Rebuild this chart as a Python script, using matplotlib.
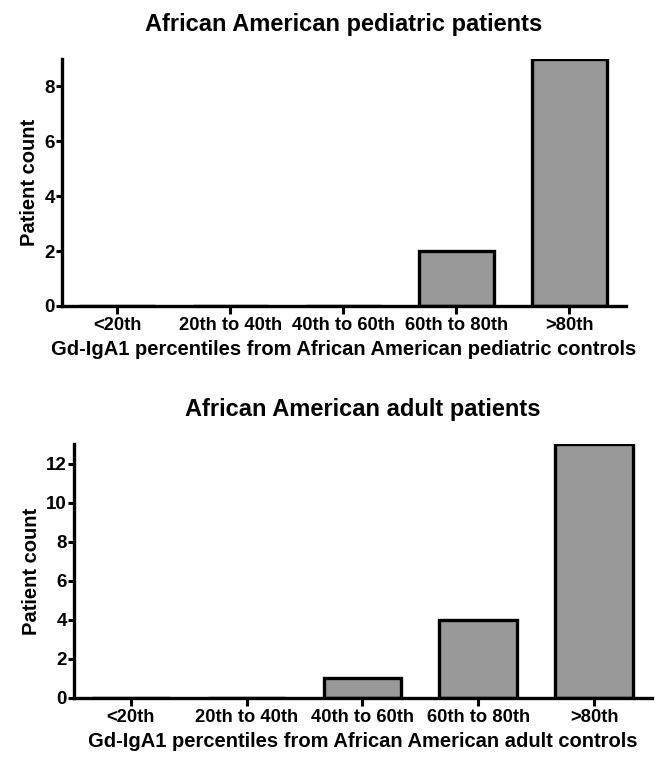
import matplotlib.pyplot as plt

# categories and counts
categories = ["<20th", "20th to 40th", "40th to 60th", "60th to 80th", ">80th"]
pediatric_counts = [0, 0, 0, 2, 9]
adult_counts = [0, 0, 1, 4, 13]

plt.rcParams["font.family"] = ["Liberation Sans", "DejaVu Sans"]
plt.rcParams["font.weight"] = "bold"

fig = plt.figure(figsize=(6.6, 7.63), dpi=100)

ax1 = fig.add_axes([0.0939, 0.599, 0.8545, 0.3237])
ax2 = fig.add_axes([0.1121, 0.0852, 0.8758, 0.3329])


def style_panel(ax, counts, yticks, ymax, title, xlabel):
    x = range(len(categories))
    ax.bar(x, counts, width=0.67, color="#999999", edgecolor="black", linewidth=2.4)
    ax.set_xlim(-0.49, 4.5)
    ax.set_ylim(0, ymax)
    ax.set_xticks(list(x))
    ax.set_xticklabels(categories, fontsize=13.2, fontweight="bold")
    ax.set_yticks(yticks)
    ax.tick_params(axis="y", labelsize=13.5, width=2.2, length=4, pad=1)
    ax.tick_params(axis="x", width=2.2, length=6, pad=2)
    for side in ["top", "right"]:
        ax.spines[side].set_visible(False)
    for side in ["left", "bottom"]:
        ax.spines[side].set_linewidth(2.4)
    ax.set_ylabel("Patient count", fontsize=14.5, fontweight="bold", labelpad=4)
    ax.set_xlabel(xlabel, fontsize=14.5, fontweight="bold", labelpad=4)
    ax.set_title(title, fontsize=17, fontweight="bold", pad=20)


style_panel(ax1, pediatric_counts, [0, 2, 4, 6, 8], 9,
            "African American pediatric patients",
            "Gd-IgA1 percentiles from African American pediatric controls")
style_panel(ax2, adult_counts, [0, 2, 4, 6, 8, 10, 12], 13,
            "African American adult patients",
            "Gd-IgA1 percentiles from African American adult controls")

fig.savefig("out.png", dpi=100, facecolor="white")
